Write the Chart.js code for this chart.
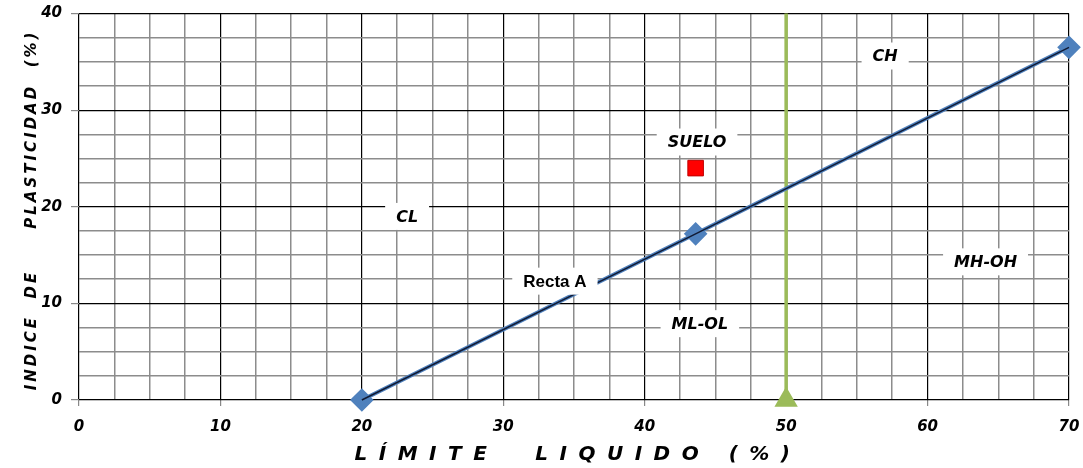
<!DOCTYPE html>
<html>
<head>
<meta charset="utf-8">
<script src="https://cdn.jsdelivr.net/npm/chart.js@4.4.0/dist/chart.umd.min.js"></script>
<style>
  html, body { margin: 0; padding: 0; background: #fff; }
  #wrap { width: 1083px; height: 468px; position: relative; }
</style>
</head>
<body>
<div id="wrap"><canvas id="grafikPlasticidad"></canvas></div>
<script>
// Carta de plasticidad - datos
const rectaLL = [20, 43.6, 70];
const rectaIP = [0, 17.2, 36.5];
const sueloLL = [43.6];
const sueloIP = [24];
const lineaBLL = [50, 50];
const lineaBIP = [40, 0];
const ticksX = [0, 10, 20, 30, 40, 50, 60, 70];
const ticksY = [0, 10, 20, 30, 40];

// etiquetas de zonas (en coordenadas del grafico)
const etiquetas = ['CH', 'SUELO', 'CL', 'Recta A', 'MH-OH', 'ML-OL'];
const etiquetaLL = [57.0, 43.7, 23.2, 33.65, 64.1, 43.9];
const etiquetaIP = [35.6, 26.7, 19.0, 12.3, 14.3, 7.9];

const tituloX = 'LÍMITE  LIQUIDO (%)';
const tituloY = 'INDICE  DE     PLASTICIDAD  (%)';

const fuenteTick = { family: 'DejaVu Sans', size: 15, style: 'italic', weight: 'bold' };

const pluginEtiquetas = {
  id: 'etiquetas',
  afterDatasetsDraw(chart) {
    const ctx = chart.ctx;
    const sx = chart.scales.x, sy = chart.scales.y;
    ctx.save();
    etiquetas.forEach((t, i) => {
      const px = sx.getPixelForValue(etiquetaLL[i]);
      const py = sy.getPixelForValue(etiquetaIP[i]);
      ctx.font = t === 'Recta A' ? 'bold 17px "Liberation Sans"' : 'bold italic 16px "DejaVu Sans"';
      const w = ctx.measureText(t).width + 22;
      const h = 27;
      ctx.fillStyle = '#fff';
      ctx.fillRect(px - w / 2, py - h / 2, w, h);
      ctx.fillStyle = '#000';
      ctx.textAlign = 'center';
      ctx.textBaseline = 'middle';
      ctx.fillText(t, px, py + 1);
    });
    ctx.restore();
  },
  afterDraw(chart) {
    // titulos de ejes con letras espaciadas
    const ctx = chart.ctx;
    ctx.save();
    ctx.fillStyle = '#000';
    ctx.textAlign = 'center';
    ctx.textBaseline = 'middle';
    ctx.font = 'bold italic 20px "DejaVu Sans"';
    ctx.letterSpacing = '11.5px';
    ctx.fillText(tituloX, 578, 455);
    ctx.translate(32, 210);
    ctx.rotate(-Math.PI / 2);
    ctx.font = 'bold italic 15px "DejaVu Sans"';
    ctx.letterSpacing = '3px';
    ctx.fillText(tituloY, 0, 0);
    ctx.restore();
  }
};

const ctxPlast = document.getElementById('grafikPlasticidad');
let grafikPlasticidad = new Chart(ctxPlast, {
  type: 'scatter',
  data: {
    datasets: [{
      label: 'Recta A (linea)',
      data: rectaLL.map((v, i) => ({x: v, y: rectaIP[i]})),
      showLine: true,
      borderColor: '#111a33',
      borderWidth: 1.5,
      pointRadius: 0,
      clip: false,
      order: 0
    }, {
      label: 'Recta A',
      data: rectaLL.map((v, i) => ({x: v, y: rectaIP[i]})),
      showLine: true,
      borderColor: '#4f81bd',
      borderWidth: 4,
      pointStyle: 'rectRot',
      pointRadius: 9,
      pointBackgroundColor: '#4f81bd',
      pointBorderColor: '#4f81bd',
      clip: false,
      order: 1
    }, {
      label: 'Suelo',
      data: sueloLL.map((v, i) => ({x: v, y: sueloIP[i]})),
      pointStyle: 'rect',
      pointRadius: 11,
      pointBackgroundColor: '#ff0000',
      pointBorderColor: '#c00000',
      pointBorderWidth: 1,
      order: 0
    }, {
      label: 'Linea B',
      data: lineaBLL.map((v, i) => ({x: v, y: lineaBIP[i]})),
      showLine: true,
      borderColor: '#9bbb59',
      borderWidth: 3.5,
      pointStyle: 'triangle',
      pointRadius: [0, 10],
      pointBackgroundColor: '#9bbb59',
      pointBorderColor: '#9bbb59',
      clip: false,
      order: 2
    }]
  },
  options: {
    responsive: true,
    maintainAspectRatio: false,
    animation: false,
    layout: { padding: { top: 13, right: 14, left: 0, bottom: 0 } },
    plugins: {
      legend: { display: false },
      tooltip: { enabled: false }
    },
    scales: {
      x: {
        type: 'linear',
        min: 0,
        max: 70,
        afterBuildTicks: (s) => {
          const t = [];
          for (let v = 0; v <= 70; v += 2.5) t.push({value: v});
          s.ticks = t;
        },
        afterFit: (s) => { s.height = 68; s.paddingLeft = 0; s.paddingRight = 0; },
        ticks: {
          autoSkip: false,
          maxRotation: 0,
          padding: 12,
          color: '#000',
          font: fuenteTick,
          callback: (v) => ticksX.includes(v) ? String(v) : ''
        },
        grid: {
          color: (c) => c.tick && ticksX.includes(c.tick.value) ? '#000' : '#8c8c8c',
          lineWidth: (c) => c.tick && ticksX.includes(c.tick.value) ? 1.2 : 1.5,
          tickColor: (c) => c.tick && ticksX.includes(c.tick.value) ? '#888' : 'rgba(0,0,0,0)',
          tickLength: 6
        },
        border: { display: false }
      },
      y: {
        type: 'linear',
        min: 0,
        max: 40,
        afterBuildTicks: (s) => {
          const t = [];
          for (let v = 0; v <= 40; v += 2.5) t.push({value: v});
          s.ticks = t;
        },
        afterFit: (s) => { s.width = 79; s.paddingTop = 0; s.paddingBottom = 0; },
        ticks: {
          autoSkip: false,
          padding: 9,
          color: '#000',
          font: fuenteTick,
          callback: (v) => ticksY.includes(v) ? String(v) : ''
        },
        grid: {
          color: (c) => c.tick && ticksY.includes(c.tick.value) ? '#000' : '#8c8c8c',
          lineWidth: (c) => c.tick && ticksY.includes(c.tick.value) ? 1.2 : 1.5,
          tickColor: (c) => c.tick && ticksY.includes(c.tick.value) ? '#888' : 'rgba(0,0,0,0)',
          tickLength: 8
        },
        border: { display: false }
      }
    }
  },
  plugins: [pluginEtiquetas]
});
</script>
</body>
</html>
